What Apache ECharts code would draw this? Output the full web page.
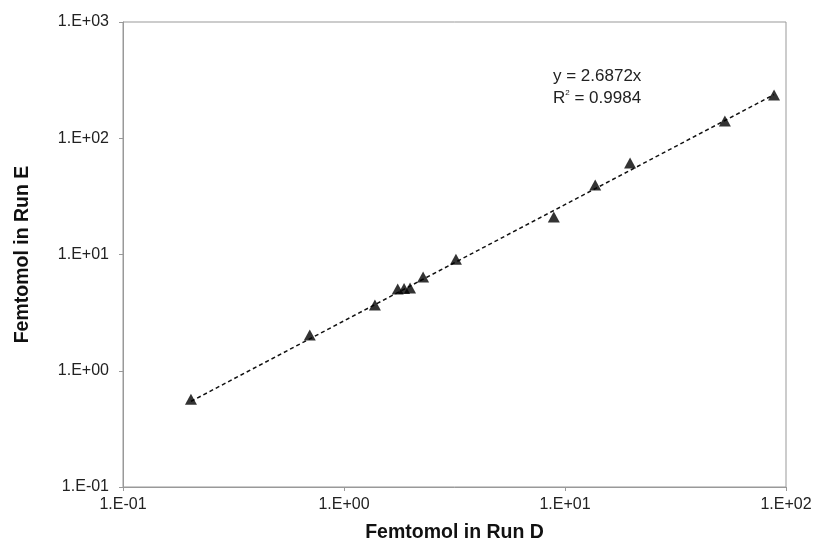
<!DOCTYPE html>
<html>
<head>
<meta charset="utf-8">
<script src="https://cdn.jsdelivr.net/npm/echarts@6/dist/echarts.min.js"></script>
<style>
  html, body { margin: 0; padding: 0; background: #fff; }
  #chart { width: 814px; height: 545px; }
</style>
</head>
<body>
<div id="chart"></div>
<script>
// femtomol values
var runD = [0.203, 0.70, 1.38, 1.75, 1.87, 1.99, 2.28, 3.21, 8.9, 13.7, 19.7, 52.9, 88.3];
var runE = [0.57, 2.03, 3.68, 5.05, 5.1, 5.15, 6.4, 9.1, 21.0, 39.7, 61.2, 140.6, 235];
var slope = 2.6872;
var r2 = '0.9984';

var points = runD.map(function (d, i) { return [d, runE[i]]; });
var xMin = Math.min.apply(null, runD);
var xMax = Math.max.apply(null, runD);
var trend = [[xMin, xMin * slope], [xMax, xMax * slope]];

function sciLabel(v) {
    var e = Math.round(Math.log10(v));
    var s = e < 0 ? '-' : '+';
    var a = Math.abs(e);
    return '1.E' + s + (a < 10 ? '0' + a : a);
}

var chart = echarts.init(document.getElementById('chart'));
var axisStyle = {
    type: 'log',
    logBase: 10,
    axisLine: { show: true, lineStyle: { color: '#999', width: 1 } },
    axisTick: { show: true, length: 4, lineStyle: { color: '#999' } },
    minorTick: { show: false },
    splitLine: { show: false },
    axisLabel: {
        color: '#222',
        fontFamily: 'Liberation Sans, Arial',
        fontSize: 16,
        formatter: sciLabel
    },
    nameLocation: 'middle',
    nameTextStyle: {
        color: '#111',
        fontFamily: 'Liberation Sans, Arial',
        fontSize: 19.5,
        fontWeight: 'bold'
    }
};

chart.setOption({
    animation: false,
    grid: {
        left: 123, right: 28, top: 22, bottom: 58,
        outerBoundsMode: 'none',
        containLabel: false,
        show: true, borderColor: '#999', borderWidth: 1
    },
    xAxis: Object.assign({}, axisStyle, {
        min: 0.1, max: 100,
        name: 'Femtomol in Run D',
        nameGap: 36,
        axisLabel: Object.assign({}, axisStyle.axisLabel, { margin: 10 })
    }),
    yAxis: Object.assign({}, axisStyle, {
        min: 0.1, max: 1000,
        name: 'Femtomol in Run E',
        nameGap: 90,
        axisLabel: Object.assign({}, axisStyle.axisLabel, { margin: 14 })
    }),
    series: [
        {
            type: 'line',
            data: trend,
            symbol: 'none',
            lineStyle: { color: '#111', width: 1.5, type: [4, 3] },
            z: 1
        },
        {
            type: 'scatter',
            data: points,
            symbol: 'triangle',
            symbolSize: [12, 11],
            itemStyle: { color: '#000' },
            z: 2
        }
    ],
    graphic: [
        {
            type: 'text',
            left: 553, top: 68,
            style: {
                text: 'y = ' + slope + 'x',
                fontFamily: 'Liberation Sans, Arial',
                fontSize: 17,
                fill: '#222'
            }
        },
        {
            type: 'text',
            left: 553, top: 89,
            style: {
                text: '{b|R}{s|2}{b| = ' + r2 + '}',
                rich: {
                    b: { fontFamily: 'Liberation Sans, Arial', fontSize: 17, fill: '#222', color: '#222' },
                    s: { fontFamily: 'Liberation Sans, Arial', fontSize: 8, fill: '#222', color: '#222', verticalAlign: 'top', padding: [0, 0, 10, 0] }
                }
            }
        }
    ]
});
</script>
</body>
</html>
